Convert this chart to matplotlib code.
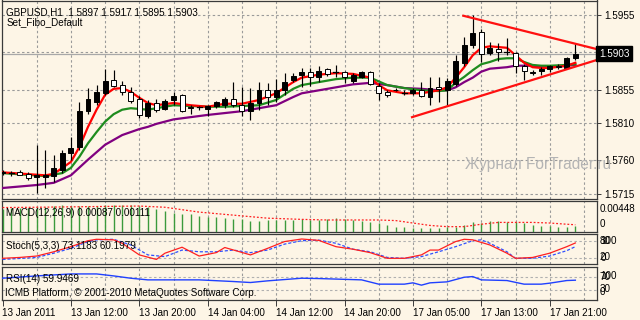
import matplotlib
matplotlib.use('Agg')
import matplotlib.pyplot as plt
from matplotlib.patches import Rectangle
import matplotlib.transforms as mtransforms

plt.rcParams['font.family'] = ['Liberation Sans', 'DejaVu Sans']

# ---------------- data ----------------
bar_index = list(range(68))
opens = [1.5743, 1.5743, 1.5744, 1.5742, 1.5738, 1.5738, 1.5739, 1.5747, 1.5770, 1.5778,
         1.5826, 1.5838, 1.5850, 1.5868, 1.5861, 1.5852, 1.5842, 1.5820, 1.5837, 1.5829,
         1.5841, 1.5848, 1.5830, 1.5831, 1.5829, 1.5833, 1.5834, 1.5842, 1.5834, 1.5826,
         1.5837, 1.5854, 1.5845, 1.5854, 1.5868, 1.5875, 1.5878, 1.5872, 1.5883, 1.5878,
         1.5878, 1.5866, 1.5872, 1.5878, 1.5860, 1.5852, 1.5855, 1.5851, 1.5850, 1.5854,
         1.5845, 1.5858, 1.5854, 1.5862, 1.5891, 1.5915, 1.5932, 1.5904, 1.5909, 1.5905,
         1.5904, 1.5887, 1.5877, 1.5880, 1.5883, 1.5887, 1.5884, 1.5897]
highs = [1.5747, 1.5746, 1.5747, 1.5745, 1.5781, 1.5774, 1.5767, 1.5774, 1.5791, 1.5838,
         1.5857, 1.5861, 1.5883, 1.5881, 1.5867, 1.5858, 1.5846, 1.5841, 1.5842, 1.5842,
         1.5852, 1.5849, 1.5834, 1.5833, 1.5834, 1.5840, 1.5845, 1.5865, 1.5858, 1.5857,
         1.5865, 1.5864, 1.5869, 1.5877, 1.5877, 1.5884, 1.5884, 1.5887, 1.5884, 1.5888,
         1.5880, 1.5877, 1.5880, 1.5880, 1.5864, 1.5854, 1.5857, 1.5854, 1.5857, 1.5865,
         1.5872, 1.5872, 1.5871, 1.5901, 1.5925, 1.5955, 1.5936, 1.5919, 1.5917, 1.5924,
         1.5905, 1.5889, 1.5881, 1.5885, 1.5888, 1.5889, 1.5899, 1.5917]
lows = [1.5740, 1.5739, 1.5740, 1.5734, 1.5716, 1.5723, 1.5731, 1.5743, 1.5761, 1.5774,
        1.5822, 1.5834, 1.5848, 1.5858, 1.5848, 1.5837, 1.5817, 1.5817, 1.5825, 1.5828,
        1.5834, 1.5825, 1.5822, 1.5828, 1.5820, 1.5830, 1.5830, 1.5832, 1.5820, 1.5814,
        1.5828, 1.5834, 1.5838, 1.5848, 1.5865, 1.5858, 1.5860, 1.5865, 1.5873, 1.5872,
        1.5864, 1.5864, 1.5871, 1.5861, 1.5841, 1.5845, 1.5853, 1.5848, 1.5848, 1.5845,
        1.5834, 1.5838, 1.5834, 1.5860, 1.5887, 1.5911, 1.5892, 1.5901, 1.5893, 1.5901,
        1.5877, 1.5868, 1.5874, 1.5875, 1.5879, 1.5883, 1.5883, 1.5895]
closes = [1.5744, 1.5743, 1.5741, 1.5736, 1.5741, 1.5741, 1.5750, 1.5770, 1.5777, 1.5826,
          1.5842, 1.5852, 1.5867, 1.5860, 1.5852, 1.5840, 1.5821, 1.5837, 1.5828, 1.5840,
          1.5846, 1.5826, 1.5832, 1.5831, 1.5833, 1.5838, 1.5842, 1.5834, 1.5826, 1.5837,
          1.5854, 1.5845, 1.5854, 1.5865, 1.5873, 1.5879, 1.5872, 1.5880, 1.5876, 1.5878,
          1.5872, 1.5875, 1.5878, 1.5863, 1.5851, 1.5848, 1.5854, 1.5851, 1.5854, 1.5846,
          1.5857, 1.5856, 1.5867, 1.5893, 1.5915, 1.5931, 1.5903, 1.5911, 1.5905, 1.5905,
          1.5887, 1.5880, 1.5879, 1.5883, 1.5887, 1.5885, 1.5897, 1.5903]

ma_red_bars = [0, 5, 6, 7, 8, 9, 10, 11, 12, 13, 14, 15, 16, 17, 18, 20, 22, 24, 26, 28, 30, 32, 34,
               35, 37, 39, 41, 43, 44, 45, 47, 49, 51, 52, 53, 54, 55, 56, 57, 58, 59, 60, 61, 62,
               63, 64, 66, 67]
ma_red = [1.5744, 1.5740, 1.5742, 1.5750, 1.5758, 1.5778, 1.5805, 1.5828, 1.5848, 1.5856, 1.5857,
          1.5852, 1.5844, 1.5837, 1.5834, 1.5837, 1.5834, 1.5832, 1.5836, 1.5836, 1.5841, 1.5850,
          1.5865, 1.5871, 1.5875, 1.5877, 1.5876, 1.5871, 1.5861, 1.5854, 1.5850, 1.5850, 1.5854,
          1.5858, 1.5871, 1.5885, 1.5901, 1.5911, 1.5913, 1.5912, 1.5911, 1.5901, 1.5891, 1.5885,
          1.5884, 1.5884, 1.5887, 1.5891]
ma_green_bars = [0, 5, 7, 8, 9, 10, 11, 12, 13, 14, 15, 16, 17, 18, 20, 22, 24, 26, 28, 30, 32, 34,
                 35, 37, 39, 41, 43, 45, 47, 49, 51, 52, 53, 54, 55, 56, 57, 58, 59, 60, 61, 62, 63,
                 64, 66, 67]
ma_green = [1.5743, 1.5739, 1.5743, 1.5750, 1.5765, 1.5783, 1.5798, 1.5812, 1.5822, 1.5828, 1.5830,
            1.5829, 1.5828, 1.5830, 1.5834, 1.5833, 1.5832, 1.5832, 1.5833, 1.5834, 1.5841, 1.5856,
            1.5861, 1.5865, 1.5869, 1.5871, 1.5871, 1.5861, 1.5857, 1.5854, 1.5853, 1.5854, 1.5864,
            1.5872, 1.5881, 1.5889, 1.5892, 1.5896, 1.5897, 1.5897, 1.5892, 1.5888, 1.5887, 1.5887,
            1.5888, 1.5889]
ma_purple_bars = [0, 4, 6, 8, 10, 12, 14, 16, 17, 18, 20, 24, 28, 30, 32, 34, 35, 37, 39, 41, 43, 45,
                  47, 49, 51, 52, 53, 54, 55, 56, 57, 58, 59, 60, 61, 62, 64, 66, 67]
ma_purple = [1.5723, 1.5727, 1.5730, 1.5740, 1.5761, 1.5781, 1.5794, 1.5802, 1.5805, 1.5809, 1.5815,
             1.5821, 1.5826, 1.5830, 1.5834, 1.5845, 1.5850, 1.5854, 1.5858, 1.5862, 1.5864, 1.5861,
             1.5857, 1.5856, 1.5854, 1.5854, 1.5858, 1.5865, 1.5871, 1.5879, 1.5883, 1.5884, 1.5885,
             1.5887, 1.5887, 1.5887, 1.5885, 1.5887, 1.5888]

trend_upper_bars = [53.9, 69.6]
trend_upper = [1.5954, 1.5909]
trend_lower_bars = [47.9, 69.6]
trend_lower = [1.5818, 1.5895]

last_price = 1.5903
price_ticks = [1.5955, 1.5905, 1.5855, 1.5810, 1.5760, 1.5715]
price_labels = ['1.5955', '', '1.5855', '1.5810', '1.5760', '1.5715']

macd_hist = [0.00371, 0.00388, 0.00388, 0.00388, 0.00404, 0.00404, 0.00421, 0.00437, 0.00421, 0.00421,
             0.00421, 0.00421, 0.00437, 0.00437, 0.00437, 0.00437, 0.00421, 0.00404, 0.00371, 0.00338,
             0.00305, 0.00289, 0.00289, 0.00256, 0.00239, 0.00239, 0.00223, 0.00206, 0.00206, 0.00173,
             0.00173, 0.00190, 0.00190, 0.00190, 0.00190, 0.00206, 0.00190, 0.00190, 0.00201, 0.00218,
             0.00201, 0.00190, 0.00178, 0.00162, 0.00145, 0.00107, 0.00079, 0.00069, 0.00058, 0.00053,
             0.00053, 0.00053, 0.00069, 0.00079, 0.00107, 0.00162, 0.00145, 0.00178, 0.00178, 0.00162,
             0.00162, 0.00135, 0.00107, 0.00091, 0.00091, 0.00069, 0.00069, 0.00087]
macd_signal_bars = [0, 4, 10, 16, 19, 23, 27, 31, 35, 38, 44, 46, 48, 50, 52, 54, 56, 58, 62, 64, 66, 67]
macd_signal = [0.00395, 0.00400, 0.00410, 0.00420, 0.00400, 0.00320, 0.00270, 0.00220, 0.00200, 0.00190,
               0.00190, 0.00180, 0.00140, 0.00100, 0.00080, 0.00080, 0.00120, 0.00150, 0.00150, 0.00140,
               0.00120, 0.00111]

stoch_main_bars = [0, 2, 4, 6, 8, 10, 11, 13, 14, 16, 18, 19, 21, 23, 25, 26, 29, 31, 33, 35, 37, 39,
                   41, 43, 45, 47, 49, 50, 51, 53, 54, 55, 57, 59, 60, 62, 64, 66, 67]
stoch_main = [19, 22, 27, 42, 60, 81, 86, 84, 72, 31, 15, 37, 58, 27, 39, 57, 31, 54, 78, 87, 82, 60,
              51, 39, 19, 19, 31, 48, 48, 78, 86, 84, 66, 37, 19, 22, 37, 60, 73]
stoch_signal_bars = [0, 4, 6, 8, 10, 11, 13, 15, 17, 19, 21, 23, 25, 27, 29, 31, 33, 35, 37, 39, 41, 43,
                     45, 47, 49, 51, 53, 55, 56, 57, 59, 60, 62, 64, 66, 67]
stoch_signal = [15, 22, 37, 54, 78, 84, 86, 66, 31, 25, 48, 42, 42, 48, 39, 48, 69, 81, 83, 72, 51, 42,
                22, 19, 25, 42, 60, 81, 84, 72, 42, 19, 19, 27, 46, 60]

rsi_bars = [0, 4, 8, 11, 13, 15, 17, 23, 27, 29, 31, 35, 37, 42, 44, 47, 48, 49, 50, 52, 54, 55, 56,
            59, 61, 63, 64, 66, 67]
rsi = [66, 73, 79, 79, 73, 66, 61, 61, 56, 53, 58, 66, 65, 61, 48, 48, 52, 45, 52, 55, 69, 71, 61,
       59, 48, 48, 51, 59, 60]

time_label_bars = [0, 8, 16, 24, 32, 40, 48, 56, 64]
time_labels = ['13 Jan 2011', '13 Jan 12:00', '13 Jan 20:00', '14 Jan 04:00', '14 Jan 12:00',
               '14 Jan 20:00', '17 Jan 05:00', '17 Jan 13:00', '17 Jan 21:00']

# ---------------- layout ----------------
W, H = 640, 320
BG = '#fdf5e6'
FRAME = '#3a3a3a'
GRIDC = '#9a9a9a'
FS = 7.1

fig = plt.figure(figsize=(W / 100, H / 100), dpi=100)
fig.patch.set_facecolor(BG)

PX_PER_BAR = 8.55
X0 = 2.5
def bar_of_px(x):
    return (x - X0) / PX_PER_BAR

XL = (bar_of_px(2), bar_of_px(597))

def add_px_axes(y0, y1, x0=2, x1=597):
    ax = fig.add_axes([x0 / W, 1 - y1 / H, (x1 - x0) / W, (y1 - y0) / H])
    ax.set_facecolor(BG)
    ax.set_xlim(*XL)
    for s in ax.spines.values():
        s.set_color(FRAME)
        s.set_linewidth(0.9)
    ax.tick_params(axis='x', which='both', bottom=False, labelbottom=False)
    return ax

dash = (0, (2.2, 2.2))
grid_bars = list(range(4, 69, 4))

def vgrid(ax):
    for b in grid_bars:
        ax.axvline(b, color=GRIDC, lw=0.8, ls=dash, zorder=1)

# main chart
ax = add_px_axes(0.5, 199)
PPX = 0.0001341
ax.set_ylim(1.5955 - (199 - 15) * PPX, 1.5955 + (15 - 0.5) * PPX)
vgrid(ax)
for p in price_ticks:
    ax.axhline(p, color=GRIDC, lw=0.8, ls=dash, zorder=1)
ax.axhline(last_price, color='#a8a8a8', lw=0.9, zorder=1.5)

ax.plot(ma_purple_bars, ma_purple, color='#800080', lw=1.6, zorder=3, solid_joinstyle='round')
ax.plot(ma_green_bars, ma_green, color='#1e8c1e', lw=1.6, zorder=3, solid_joinstyle='round')
ax.plot(ma_red_bars, ma_red, color='#ff0000', lw=1.6, zorder=3, solid_joinstyle='round')

bw = 0.58
for i, o, h, l, c in zip(bar_index, opens, highs, lows, closes):
    ax.plot([i, i], [l, h], color='black', lw=0.85, zorder=4, solid_capstyle='butt')
    if abs(c - o) < 0.00005:
        ax.plot([i - bw / 2, i + bw / 2], [o, o], color='black', lw=0.9, zorder=5)
    else:
        fc = 'black' if c > o else 'white'
        ax.add_patch(Rectangle((i - bw / 2, min(o, c)), bw, abs(c - o), facecolor=fc,
                               edgecolor='black', lw=0.7, zorder=5))

ax.plot(trend_upper_bars, trend_upper, color='#ff1010', lw=1.6, zorder=6)
ax.plot(trend_lower_bars, trend_lower, color='#ff1010', lw=1.6, zorder=6)

ax.yaxis.tick_right()
ax.set_yticks(price_ticks)
ax.set_yticklabels(price_labels)
ax.tick_params(axis='y', length=3, width=0.7, color=FRAME, pad=2.5, labelsize=FS)
trans = mtransforms.blended_transform_factory(ax.transAxes, ax.transData)
ax.text(1.003, last_price, '1.5903', transform=trans, ha='left', va='center', color='white',
        fontsize=FS, zorder=10,
        bbox=dict(facecolor='black', edgecolor='black', boxstyle='square,pad=0.25'))

# MACD
axm = add_px_axes(201, 232)
MPX = 0.000165
axm.set_ylim(-0.5 * MPX, 31 * MPX - 0.5 * MPX)
vgrid(axm)
axm.vlines(bar_index, 0 - 0.5 * MPX, macd_hist, color='#3c9a3c', lw=1.0, zorder=3)
axm.plot(macd_signal_bars, macd_signal, color='#ff2020', lw=0.9, ls=(0, (1.5, 1.5)), zorder=4)
axm.set_yticks([])

# Stochastic
axs = add_px_axes(234, 264)
SPX = 0.2833
axs.set_ylim(-(264 - 263.7) / SPX, 100 + (235.3 - 234) / SPX)
vgrid(axs)
for lv in (80, 20):
    axs.axhline(lv, color='#b0b0b0', lw=0.8, ls=dash, zorder=1)
axs.plot(stoch_signal_bars, stoch_signal, color='#3050ff', lw=0.9, ls=(0, (2.5, 1.5)), zorder=3)
axs.plot(stoch_main_bars, stoch_main, color='#ff2020', lw=0.9, zorder=4)
axs.set_yticks([])

# RSI
axr = add_px_axes(267, 300)
axr.set_ylim(0, 100)
vgrid(axr)
for lv in (70, 30):
    axr.axhline(lv, color='#b0b0b0', lw=0.8, ls=dash, zorder=1)
axr.plot(rsi_bars, rsi, color='#2040ff', lw=1.0, zorder=3)
axr.set_yticks([])
axr.set_xticks(time_label_bars)
axr.set_xticklabels(time_labels, ha='left')
axr.tick_params(axis='x', bottom=True, labelbottom=True, length=4, width=0.7, color=FRAME,
                pad=2, labelsize=FS)

# ---------------- texts (pixel positions) ----------------
def ftext(x, y, s, **kw):
    kw.setdefault('fontsize', FS)
    kw.setdefault('color', 'black')
    fig.text(x / W, 1 - y / H, s, ha=kw.pop('ha', 'left'), va=kw.pop('va', 'baseline'), **kw)

ftext(6.5, 15.3, 'GBPUSD,H1  1.5897 1.5917 1.5895 1.5903')
ftext(6.5, 24.8, 'Set_Fibo_Default')
ftext(6, 215.5, 'MACD(12,26,9) 0.00087 0.00111')
ftext(6, 249, 'Stoch(5,3,3) 73.1183 60.1979')
ftext(6, 281.5, 'RSI(14) 59.9469')
ftext(5, 295.5, 'ICMB Platform, \u00a9 2001-2010 MetaQuotes Software Corp.')

ftext(600, 212.5, '0.00448')
ftext(600, 227, '0')
ftext(600, 244, '100')
ftext(600, 244.5, '80')
ftext(600, 260.5, '20')
ftext(600.5, 261, '0')
ftext(600, 279.3, '100')
ftext(600, 279.8, '70')
ftext(600, 292.5, '30')
ftext(600, 295, '0')

ftext(465, 168.5, 'Журнал ForTrader.ru', fontsize=11.2, color='#b4b4b4')

fig.savefig('out.png', dpi=100, facecolor=BG)
